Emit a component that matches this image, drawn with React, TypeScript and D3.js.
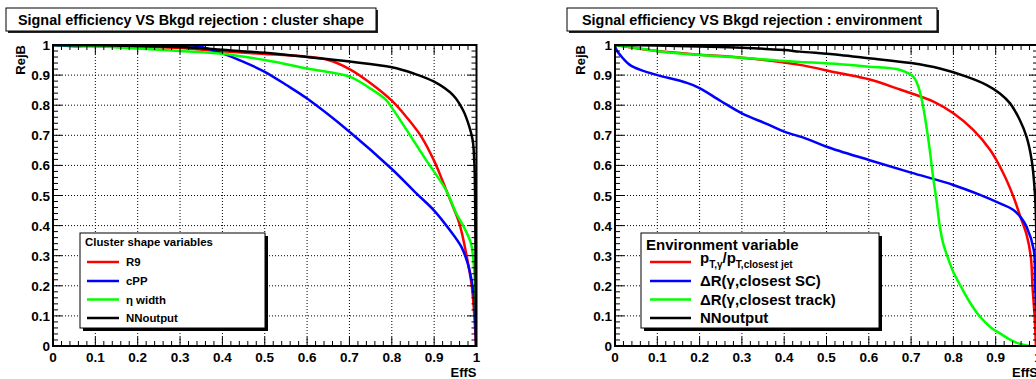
import React from "react";
import * as d3 from "d3";

type Pt = [number, number];

// ---- Left panel: cluster shape ----
const shapeR9: Pt[] = [[0,1.0],[0.1,0.997],[0.2,0.994],[0.3,0.99],[0.4,0.979],[0.5,0.970],[0.6,0.961],[0.65,0.95],[0.7,0.92],[0.75,0.873],[0.8,0.815],[0.835,0.76],[0.87,0.695],[0.9,0.615],[0.92,0.548],[0.94,0.478],[0.96,0.405],[0.977,0.297],[0.989,0.197],[0.995,0.097],[0.999,0]];
const shapeCPP: Pt[] = [[0,1.0],[0.05,0.996],[0.1,0.997],[0.2,0.998],[0.3,0.999],[0.33,0.998],[0.36,0.99],[0.4,0.972],[0.45,0.944],[0.5,0.911],[0.55,0.868],[0.6,0.822],[0.7,0.712],[0.8,0.588],[0.858,0.507],[0.9,0.45],[0.936,0.387],[0.964,0.33],[0.979,0.275],[0.991,0.197],[0.995,0.15],[0.999,0]];
const shapeEta: Pt[] = [[0,1.0],[0.1,0.996],[0.2,0.988],[0.3,0.98],[0.4,0.971],[0.5,0.95],[0.6,0.922],[0.7,0.895],[0.75,0.855],[0.787,0.817],[0.8,0.792],[0.835,0.718],[0.88,0.62],[0.928,0.518],[0.952,0.441],[0.972,0.39],[0.987,0.34],[0.994,0.263],[0.998,0.153],[1.0,0]];
const shapeNN: Pt[] = [[0,1.0],[0.1,0.999],[0.2,0.997],[0.3,0.993],[0.4,0.984],[0.5,0.974],[0.6,0.96],[0.7,0.945],[0.8,0.926],[0.85,0.906],[0.9,0.878],[0.944,0.834],[0.968,0.784],[0.983,0.729],[0.991,0.684],[0.995,0.607],[0.997,0.45],[0.998,0.2],[0.999,0]];

// ---- Right panel: environment ----
const envPt: Pt[] = [[0,1.0],[0.1,0.98],[0.2,0.968],[0.3,0.958],[0.4,0.942],[0.437,0.934],[0.532,0.906],[0.6,0.886],[0.674,0.852],[0.753,0.812],[0.8,0.773],[0.847,0.718],[0.887,0.651],[0.918,0.574],[0.942,0.496],[0.957,0.435],[0.973,0.37],[0.983,0.297],[0.987,0.197],[0.992,0.097],[0.995,0]];
const envSC: Pt[] = [[0,0.995],[0.005,0.98],[0.012,0.967],[0.035,0.934],[0.067,0.914],[0.1,0.9],[0.17,0.874],[0.2,0.857],[0.25,0.814],[0.3,0.773],[0.36,0.737],[0.4,0.712],[0.45,0.69],[0.5,0.662],[0.6,0.618],[0.7,0.576],[0.8,0.535],[0.863,0.502],[0.91,0.474],[0.942,0.452],[0.961,0.424],[0.973,0.396],[0.99,0.319],[0.993,0.208],[0.997,0.1],[1.0,0]];
const envTrack: Pt[] = [[0,1.0],[0.067,0.987],[0.122,0.976],[0.2,0.967],[0.3,0.958],[0.4,0.947],[0.532,0.936],[0.6,0.928],[0.674,0.917],[0.705,0.895],[0.717,0.862],[0.727,0.806],[0.741,0.684],[0.753,0.551],[0.76,0.485],[0.768,0.396],[0.776,0.34],[0.786,0.297],[0.8,0.245],[0.818,0.197],[0.838,0.147],[0.863,0.097],[0.89,0.06],[0.91,0.042],[0.935,0.02],[0.955,0.008],[0.98,0]];
const envNN: Pt[] = [[0,1.0],[0.1,0.998],[0.2,0.995],[0.3,0.991],[0.4,0.983],[0.437,0.978],[0.532,0.967],[0.6,0.956],[0.7,0.94],[0.768,0.922],[0.831,0.895],[0.879,0.867],[0.91,0.839],[0.934,0.806],[0.957,0.751],[0.973,0.695],[0.985,0.618],[0.993,0.5],[0.997,0.3],[1.0,0]];

const majorTicks = [0, 0.1, 0.2, 0.3, 0.4, 0.5, 0.6, 0.7, 0.8, 0.9, 1];
const tickLabels = ["0", "0.1", "0.2", "0.3", "0.4", "0.5", "0.6", "0.7", "0.8", "0.9", "1"];
const minorTicks = d3.range(0, 51).map((i) => i / 50);

const leftTitle = "Signal efficiency VS Bkgd rejection : cluster shape";
const rightTitle = "Signal efficiency VS Bkgd rejection : environment";
const leftLegendHeader = "Cluster shape variables";
const rightLegendHeader = "Environment variable";
const leftNames = ["R9", "cPP", "η width", "NNoutput"];
const rightNames = ["pT", "ΔR(γ,closest SC)", "ΔR(γ,closest track)", "NNoutput"];
const colors = ["#ff0000", "#0000ff", "#00ff00", "#000000"];

const FONT = "'Liberation Sans', Arial, Helvetica, sans-serif";
const Y0 = 346, Y1 = 45;

interface PanelProps {
  id: string;
  x0: number; x1: number;
  title: string; titleBox: [number, number]; titleLen: number;
  series: Pt[][];
  ylabelX: number;
  legend: { x: number; y: number; w: number; h: number; header: string; headerSize: number; headerY: number; lineX0: number; lineX1: number; textX: number; fontSize: number; names: string[]; rich: boolean };
}

function Panel(p: PanelProps) {
  const x = d3.scaleLinear().domain([0, 1]).range([p.x0, p.x1]);
  const y = d3.scaleLinear().domain([0, 1]).range([Y0, Y1]);
  const line = d3.line<Pt>().x((d) => x(d[0])).y((d) => y(d[1])).curve(d3.curveCatmullRom.alpha(0.5));
  const lg = p.legend;
  const rowY = [262, 281, 299.5, 318];
  return (
    <g fontFamily={FONT} fontWeight="bold">
      <defs>
        <clipPath id={`clip-${p.id}`}>
          <rect x={p.x0} y={Y1} width={p.x1 - p.x0} height={Y0 - Y1} />
        </clipPath>
      </defs>
      {/* title box */}
      <rect x={p.titleBox[0] + 2} y={10} width={p.titleBox[1] - p.titleBox[0]} height={23} fill="#222" />
      <rect x={p.titleBox[0]} y={8} width={p.titleBox[1] - p.titleBox[0]} height={23} fill="#fff" stroke="#000" strokeWidth={1} />
      <text x={(p.titleBox[0] + p.titleBox[1]) / 2} y={24.5} textAnchor="middle" fontSize={14} textLength={p.titleLen} lengthAdjust="spacingAndGlyphs">{p.title}</text>
      {/* grid */}
      {majorTicks.slice(1, -1).map((t) => (
        <g key={`g${t}`}>
          <line x1={x(t)} x2={x(t)} y1={Y0} y2={Y1} stroke="#000" strokeWidth={1} strokeDasharray="1,2" />
          <line x1={p.x0} x2={p.x1} y1={y(t)} y2={y(t)} stroke="#000" strokeWidth={1} strokeDasharray="1,2" />
        </g>
      ))}
      {/* curves */}
      <g clipPath={`url(#clip-${p.id})`}>
        {p.series.map((s, i) => (
          <path key={i} d={line(s) || ""} fill="none" stroke={colors[i]} strokeWidth={2.5} strokeLinejoin="round" />
        ))}
      </g>
      {/* ticks */}
      {minorTicks.map((t, i) => {
        const len = i % 5 === 0 ? 9 : 5;
        return (
          <g key={`t${i}`} stroke="#000" strokeWidth={1}>
            <line x1={x(t)} x2={x(t)} y1={Y0} y2={Y0 - len} />
            <line x1={x(t)} x2={x(t)} y1={Y1} y2={Y1 + len} />
            <line x1={p.x0} x2={p.x0 + len} y1={y(t)} y2={y(t)} />
            <line x1={p.x1} x2={p.x1 - len} y1={y(t)} y2={y(t)} />
          </g>
        );
      })}
      <rect x={p.x0} y={Y1} width={p.x1 - p.x0} height={Y0 - Y1} fill="none" stroke="#000" strokeWidth={2} />
      {/* tick labels */}
      {majorTicks.map((t, i) => (
        <g key={`l${i}`} fontSize={13.5}>
          <text x={x(t)} y={362} textAnchor="middle">{tickLabels[i]}</text>
          <text x={p.x0 - 3} y={y(t) + 5} textAnchor="end">{tickLabels[i]}</text>
        </g>
      ))}
      <text x={p.x1} y={377} textAnchor="end" fontSize={13}>EffS</text>
      <text transform={`translate(${p.ylabelX},${Y1}) rotate(-90)`} textAnchor="end" fontSize={13}>RejB</text>
      {/* legend */}
      <rect x={lg.x + 3} y={lg.y + 3} width={lg.w} height={lg.h} fill="#000" />
      <rect x={lg.x} y={lg.y} width={lg.w} height={lg.h} fill="#fff" stroke="#000" strokeWidth={1} />
      <text x={lg.x + 5} y={lg.headerY} fontSize={lg.headerSize}>{lg.header}</text>
      {lg.names.map((n, i) => (
        <g key={`lg${i}`}>
          <line x1={lg.lineX0} x2={lg.lineX1} y1={rowY[i]} y2={rowY[i]} stroke={colors[i]} strokeWidth={2.5} />
          {lg.rich && i === 0 ? (
            <text x={lg.textX} y={rowY[i] + 1} fontSize={lg.fontSize}>
              p<tspan fontSize={10} dy={5}>T,γ</tspan><tspan dy={-5}>/p</tspan><tspan fontSize={10} dy={5}>T,closest jet</tspan>
            </text>
          ) : (
            <text x={lg.textX} y={rowY[i] + lg.fontSize * 0.36} fontSize={lg.fontSize}>{n}</text>
          )}
        </g>
      ))}
    </g>
  );
}

export default function App() {
  return (
    <svg width={1036} height={379} style={{ position: "absolute", left: 0, top: 0, background: "#fff" }}>
      <rect x={0} y={0} width={1036} height={379} fill="#fff" />
      <Panel
        id="left" x0={53} x1={476.5}
        title={leftTitle} titleBox={[6, 376]} titleLen={346}
        series={[shapeR9, shapeCPP, shapeEta, shapeNN]}
        ylabelX={25}
        legend={{ x: 80, y: 233, w: 185, h: 95, header: leftLegendHeader, headerSize: 11.4, headerY: 246, lineX0: 87, lineX1: 119, textX: 126, fontSize: 11.4, names: leftNames, rich: false }}
      />
      <Panel
        id="right" x0={615} x1={1038}
        title={rightTitle} titleBox={[567, 937]} titleLen={340}
        series={[envPt, envSC, envTrack, envNN]}
        ylabelX={585}
        legend={{ x: 641, y: 233, w: 238, h: 95, header: rightLegendHeader, headerSize: 15, headerY: 250, lineX0: 650, lineX1: 691, textX: 700, fontSize: 15, names: rightNames, rich: true }}
      />
    </svg>
  );
}
